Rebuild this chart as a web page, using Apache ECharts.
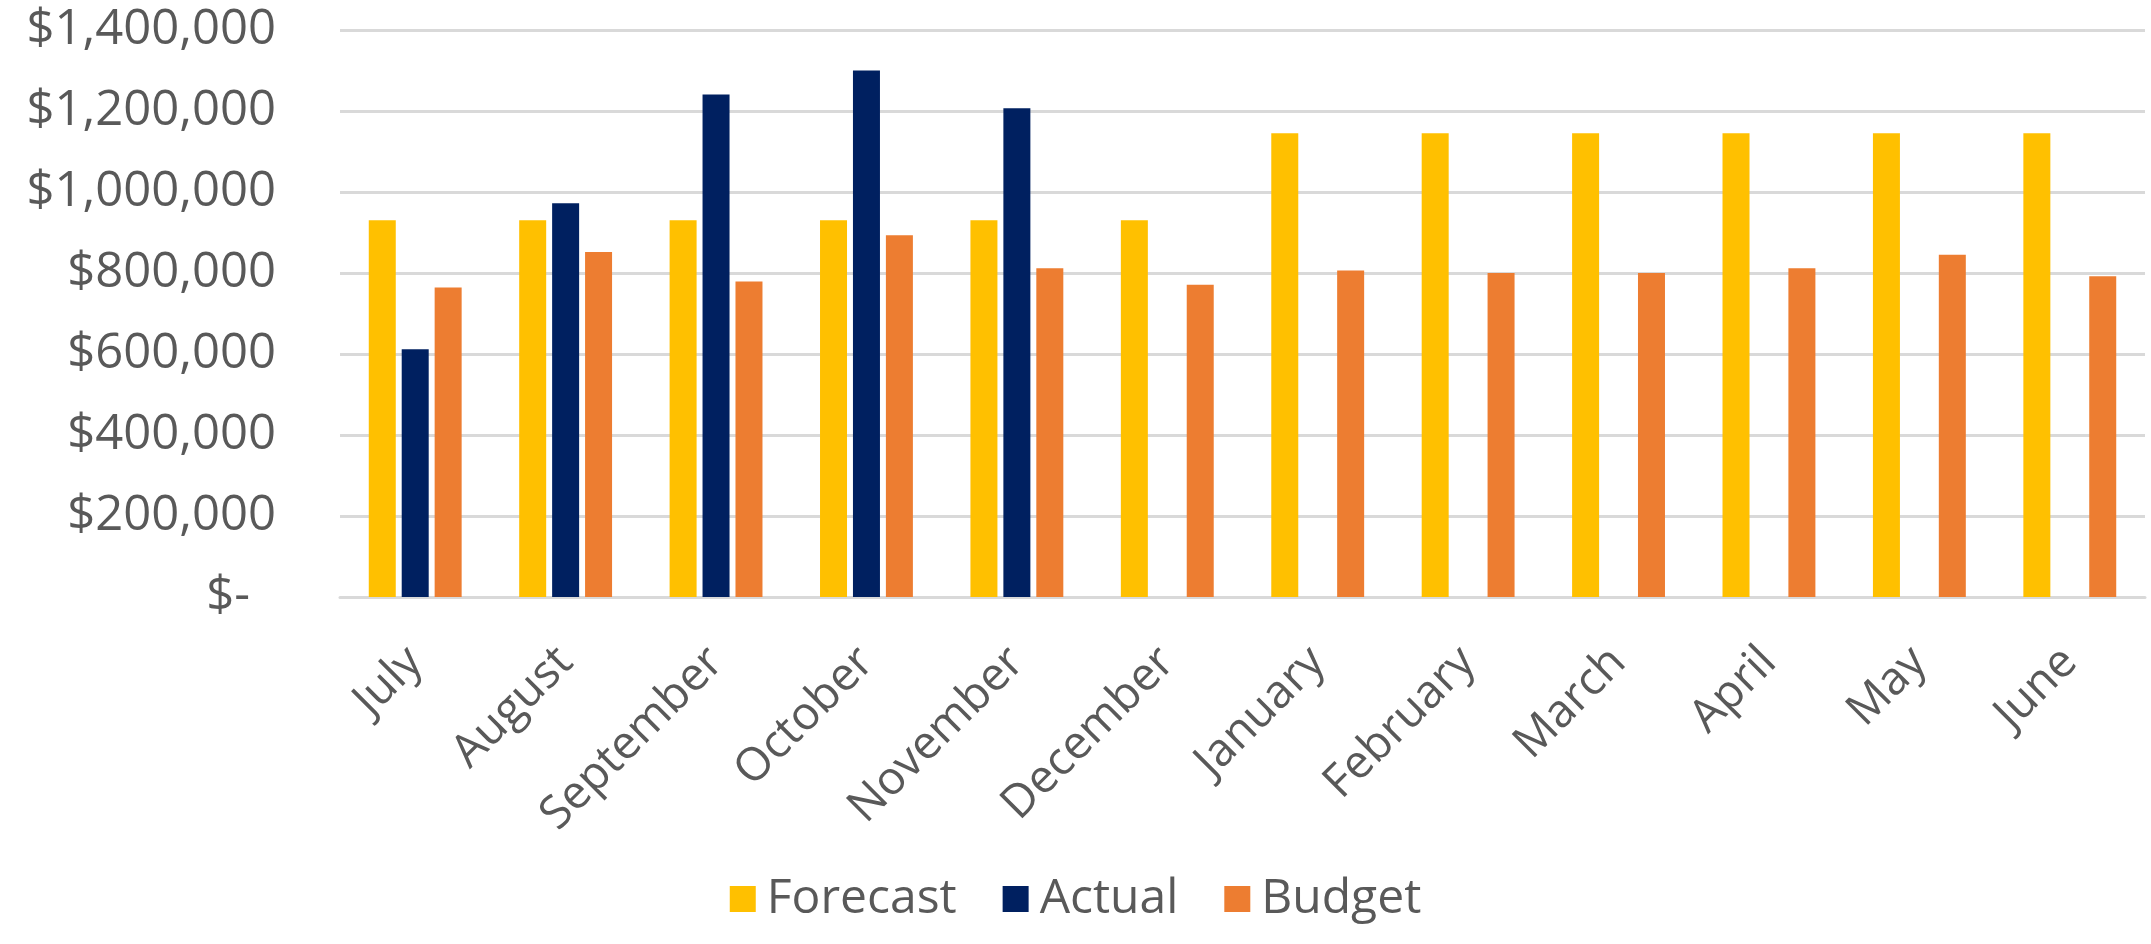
<!DOCTYPE html>
<html>
<head>
<meta charset="utf-8">
<script src="https://cdn.jsdelivr.net/npm/echarts@6/dist/echarts.min.js"></script>
<style>
html,body{margin:0;padding:0;background:#fff;}
#chart{width:2151px;height:944px;}
</style>
</head>
<body>
<div id="chart"></div>
<script>
const categories = ['July','August','September','October','November','December','January','February','March','April','May','June'];
const forecast = [930000,930000,930000,930000,930000,930000,1145000,1145000,1145000,1145000,1145000,1145000];
const actual = [612000,972000,1241000,1300000,1207000,null,null,null,null,null,null,null];
const budget = [764000,852000,779000,893000,812000,771000,806000,800000,800000,812000,845000,792000];
const yTicks = [0,200000,400000,600000,800000,1000000,1200000,1400000];

const FONT = 'Open Sans';
const chart = echarts.init(document.getElementById('chart'));
function money(v){
  if (v === 0) return '{z|$-}';
  return '$' + v.toLocaleString('en-US');
}
chart.setOption({
  animation:false,
  textStyle:{fontFamily:FONT},
  grid:{left:340,right:6,top:30,bottom:347,containLabel:false},
  legend:{
    data:['Forecast','Actual','Budget'],
    bottom:16,
    left:'center',
    itemWidth:26,itemHeight:26,itemGap:46,
    icon:'rect',
    textStyle:{fontFamily:FONT,fontSize:48,color:'#595959',padding:[0,0,0,6]}
  },
  xAxis:{
    type:'category',
    data:categories,
    axisLine:{show:true,lineStyle:{color:'#D9D9D9',width:3}},
    axisTick:{show:false},
    axisLabel:{interval:0,rotate:45,margin:58,fontFamily:FONT,fontSize:46,color:'#595959'}
  },
  yAxis:{
    type:'value',
    min:yTicks[0],max:yTicks[yTicks.length-1],interval:200000,
    axisLine:{show:false},axisTick:{show:false},
    splitLine:{lineStyle:{color:'#D9D9D9',width:3}},
    axisLabel:{
      margin:64,fontFamily:FONT,fontSize:49,color:'#595959',
      formatter:money,
      rich:{z:{fontFamily:FONT,fontSize:49,color:'#595959',padding:[0,26,0,0]}}
    }
  },
  series:[
    {name:'Forecast',type:'bar',data:forecast,barWidth:27,barGap:'22%',itemStyle:{color:'#FFC000'}},
    {name:'Actual',type:'bar',data:actual,barWidth:27,barGap:'22%',itemStyle:{color:'#002060'}},
    {name:'Budget',type:'bar',data:budget,barWidth:27,barGap:'22%',itemStyle:{color:'#ED7D31'}}
  ]
});
</script>
</body>
</html>
